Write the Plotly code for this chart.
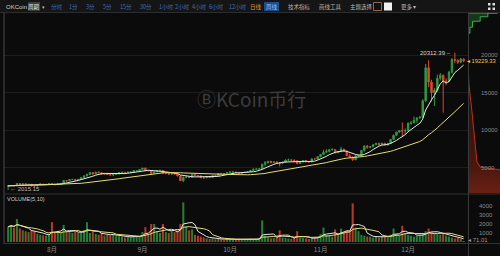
import plotly.graph_objects as go
import pandas as pd

# ---------------- data ----------------
dates = pd.date_range("2017-07-17", "2017-12-20", freq="D")
first_open = 2480.0

close_jul = [2560, 2600, 2550, 2860, 2670, 2830, 2750, 2760, 2580, 2530, 2680, 2800, 2730, 2760, 2870]
high_jul = [2600, 2650, 2640, 2900, 2900, 2860, 2860, 2780, 2770, 2620, 2700, 2830, 2810, 2770, 2900]
low_jul = [2015.15, 2520, 2500, 2540, 2600, 2620, 2700, 2710, 2470, 2460, 2510, 2670, 2700, 2690, 2720]

close_aug = [2720, 2710, 2800, 2860, 3260, 3230, 3390, 3420, 3340, 3420, 3650, 3860, 4060, 4320, 4160, 4380,
             4290, 4110, 4160, 4060, 4000, 4090, 4140, 4320, 4360, 4350, 4390, 4390, 4580, 4580, 4740]
high_aug = [2930, 2760, 2820, 2880, 3300, 3290, 3400, 3480, 3430, 3440, 3690, 3970, 4200, 4330, 4330, 4420,
            4480, 4370, 4190, 4180, 4110, 4140, 4250, 4340, 4460, 4370, 4420, 4410, 4620, 4650, 4750]
low_aug = [2670, 2650, 2690, 2770, 2860, 3150, 3220, 3360, 3260, 3340, 3400, 3640, 3850, 4020, 3990, 4130,
           4260, 4000, 3990, 4040, 3950, 3850, 4090, 4110, 4320, 4310, 4340, 4330, 4380, 4520, 4570]

close_sep = [4920, 4590, 4600, 4230, 4410, 4600, 4610, 4230, 4230, 4120, 4160, 4130, 3880, 3240, 3700,
             3700, 3690, 4090, 3920, 3890, 3630, 3620, 3780, 3660, 3930, 3890, 4210, 4190, 4160, 4340]
high_sep = [4930, 4970, 4700, 4600, 4480, 4640, 4690, 4640, 4320, 4250, 4280, 4360, 4150, 3920, 3790,
            3900, 3760, 4120, 4100, 4030, 3890, 3760, 3800, 3780, 3970, 3970, 4240, 4270, 4230, 4360]
low_sep = [4740, 4480, 4450, 4020, 4220, 4400, 4480, 4160, 4080, 4030, 4060, 4110, 3820, 3220, 3050,
           3610, 3580, 3680, 3880, 3850, 3590, 3560, 3600, 3630, 3650, 3860, 3890, 4150, 4120, 4160]

close_oct = [4400, 4400, 4310, 4220, 4320, 4370, 4440, 4610, 4770, 4780, 4830, 5440, 5640, 5830, 5680, 5750,
             5600, 5570, 5700, 6000, 6010, 5980, 5900, 5520, 5730, 5890, 5770, 5750, 6150, 6130, 6450]
high_oct = [4470, 4470, 4410, 4360, 4350, 4400, 4460, 4620, 4880, 4900, 4870, 5450, 5860, 5850, 5860, 5770,
            5780, 5600, 5740, 6070, 6190, 6080, 6070, 5910, 5760, 5970, 5990, 5790, 6250, 6210, 6470]
low_oct = [4300, 4360, 4240, 4190, 4140, 4300, 4320, 4400, 4560, 4710, 4770, 4820, 5160, 5530, 5560, 5560,
           5560, 5130, 5500, 5610, 5910, 5800, 5680, 5440, 5500, 5680, 5720, 5680, 5690, 6080, 6100]

close_nov = [6750, 7030, 7150, 7360, 7390, 6950, 7120, 7460, 7150, 6580, 6340, 6020, 6540, 6600, 7280,
             7850, 7700, 7780, 8040, 8200, 8070, 8240, 8000, 8200, 8750, 9290, 9730, 9910, 9860, 9940]
high_nov = [6770, 7350, 7440, 7490, 7600, 7420, 7220, 7770, 7460, 7320, 6830, 6500, 6700, 6720, 7320,
            7960, 8000, 7850, 8100, 8290, 8340, 8290, 8260, 8300, 8780, 9390, 9750, 9970, 11000, 10200]
low_nov = [6370, 6740, 6990, 7010, 7300, 6920, 6930, 7080, 7100, 6500, 6220, 5900, 6000, 6480, 6590,
           7120, 7500, 7540, 7700, 8020, 7920, 8060, 7970, 7950, 8130, 8700, 9280, 9600, 9100, 9450]

close_dec = [10900, 10950, 11300, 11600, 11700, 13900, 18300, 16400, 15000, 15300, 16900, 17300, 16500,
             16500, 17700, 19400, 19300, 19050, 19450, 19229.33]
high_dec = [11000, 11200, 11800, 11700, 11900, 14100, 18800, 19300, 16700, 15600, 17400, 17600, 17400,
            16900, 17900, 19600, 20312.39, 19400, 19600, 19550]
low_dec = [9800, 10700, 10900, 10950, 11500, 11650, 13700, 15700, 13800, 13200, 15100, 16600, 12300,
           16000, 16400, 17500, 18900, 18800, 18900, 19050]

vol_jul = [1700, 1900, 1600, 2550, 1500, 1300, 1200, 1100, 1300, 1200, 900, 800, 750, 700, 800]
vol_aug = [2200, 1000, 1100, 1000, 1900, 1100, 1200, 1000, 1150, 1000, 1100, 1300, 2200, 1000, 1100, 900,
           800, 1000, 700, 800, 750, 900, 700, 650, 600, 500, 550, 600, 650, 550, 700]
vol_sep = [1100, 1650, 900, 2000, 2000, 1200, 1000, 2000, 1100, 1000, 1200, 1100, 1300, 2000, 4400,
           1700, 1300, 1400, 800, 700, 600, 500, 400, 350, 400, 300, 350, 300, 250, 300]
vol_oct = [300, 250, 300, 350, 300, 250, 300, 350, 300, 350, 400, 2400, 700, 500, 400, 450,
           600, 1300, 500, 450, 400, 350, 500, 1200, 500, 450, 400, 350, 450, 500, 600]
vol_nov = [900, 1600, 800, 700, 600, 1400, 900, 1500, 1100, 1300, 1300, 4300, 1600, 1200, 800,
           700, 600, 600, 500, 600, 500, 700, 650, 600, 800, 1500, 900, 800, 1800, 1000]
vol_dec = [800, 700, 600, 700, 800, 1000, 1200, 1500, 1100, 1000, 900, 800, 1000, 700, 600,
           500, 400, 450, 350, 71.01]

month_ticks = ["2017-08-01", "2017-09-01", "2017-10-01", "2017-11-01", "2017-12-01"]
month_labels = ["8月", "9月", "10月", "11月", "12月"]
price_ticks = [5000, 10000, 15000, 20000]
price_tick_text = ["5000", "10000", "15000", "20000"]
volume_ticks = [1000, 2000, 3000, 4000]
volume_tick_text = ["1000", "2000", "3000", "4000"]

# order-book depth (price level, cumulative share of strip width)
ask_price = [22900, 23700, 24500, 25100, 25600]
ask_cum = [0.06, 0.14, 0.38, 0.62, 0.92]
bid_price = [19229.33, 16000, 12400, 8400, 5730, 5070, 4700]
bid_cum = [0.0, 0.03, 0.125, 0.22, 0.28, 0.375, 1.0]

close = close_jul + close_aug + close_sep + close_oct + close_nov + close_dec
high = high_jul + high_aug + high_sep + high_oct + high_nov + high_dec
low = low_jul + low_aug + low_sep + low_oct + low_nov + low_dec
volume = vol_jul + vol_aug + vol_sep + vol_oct + vol_nov + vol_dec
open_ = [first_open] + close[:-1]

ma7 = pd.Series(close).rolling(7, min_periods=1).mean()
ma30 = pd.Series(close).rolling(30, min_periods=1).mean()
vma5 = pd.Series(volume).rolling(5, min_periods=1).mean()
vma10 = pd.Series(volume).rolling(10, min_periods=1).mean()

# ---------------- styling ----------------
W, H = 500, 256
BG = "#0b0b0b"
GREEN = "#2f9a40"
RED = "#e0452f"
GRID = "#1d1d1d"
LABEL = "#8a8a8a"
NUMF = "Liberation Sans, Arial, sans-serif"
CJKF = "Noto Sans CJK SC, Noto Sans, sans-serif"

def X(px):
    return px / W

def Y(py):
    return 1 - py / H

PRICE_RANGE = [1600, 25600]
VOL_RANGE = [-111, 5111]
x_range = ["2017-07-15 14:00", "2017-12-21 12:00"]

fig = go.Figure()

fig.add_trace(go.Candlestick(
    x=dates, open=open_, high=high, low=low, close=close,
    increasing=dict(line=dict(color=GREEN, width=1), fillcolor=GREEN),
    decreasing=dict(line=dict(color=RED, width=1), fillcolor=RED),
    whiskerwidth=0, xaxis="x", yaxis="y", hoverinfo="skip"))
fig.add_trace(go.Scatter(x=dates, y=ma7, mode="lines", line=dict(color="#e6e6e6", width=1),
                         xaxis="x", yaxis="y", hoverinfo="skip"))
fig.add_trace(go.Scatter(x=dates, y=ma30, mode="lines", line=dict(color="#e2dc78", width=1),
                         xaxis="x", yaxis="y", hoverinfo="skip"))

bar_colors = [GREEN if c >= o else RED for o, c in zip(open_, close)]
fig.add_trace(go.Bar(x=dates, y=volume, marker=dict(color=bar_colors, line=dict(width=0)),
                     opacity=0.8, width=86400000 * 0.7, xaxis="x2", yaxis="y2", hoverinfo="skip"))
fig.add_trace(go.Scatter(x=dates, y=vma5, mode="lines", line=dict(color="#e6e6e6", width=1),
                         xaxis="x2", yaxis="y2", hoverinfo="skip"))
fig.add_trace(go.Scatter(x=dates, y=vma10, mode="lines", line=dict(color="#e2dc78", width=1),
                         xaxis="x2", yaxis="y2", hoverinfo="skip"))

# depth: asks (green staircase)
ax, ay = [0.0], [ask_price[0]]
prev = 0.0
for p, c in zip(ask_price, ask_cum):
    ax += [prev, c]
    ay += [p, p]
    prev = c
ax += [prev, 0.0]
ay += [PRICE_RANGE[1], PRICE_RANGE[1]]
fig.add_trace(go.Scatter(x=ax, y=ay, mode="lines", fill="toself", fillcolor="rgba(30,110,45,0.45)",
                         line=dict(color="#35b04a", width=1), xaxis="x3", yaxis="y3", hoverinfo="skip"))
# depth: bids (red curve with gradient)
bx = bid_cum + [1.0, 0.0]
by = bid_price + [PRICE_RANGE[0], PRICE_RANGE[0]]
fig.add_trace(go.Scatter(x=bx, y=by, mode="lines", fill="toself",
                         fillgradient=dict(type="vertical", start=PRICE_RANGE[0], stop=bid_price[0],
                                           colorscale=[[0, "#6a2014"], [0.2, "#4a170f"], [1, "#170c0a"]]),
                         line=dict(width=0), xaxis="x3", yaxis="y3", hoverinfo="skip"))
fig.add_trace(go.Scatter(x=bid_cum, y=bid_price, mode="lines", line=dict(color="#b8321f", width=1),
                         xaxis="x3", yaxis="y3", hoverinfo="skip"))

price_dom = [Y(193), Y(13)]
vol_dom = [Y(243), Y(196)]
plot_x = [X(4), X(468)]

fig.update_layout(
    width=W, height=H, margin=dict(l=0, r=0, t=0, b=0),
    paper_bgcolor=BG, plot_bgcolor=BG, showlegend=False, bargap=0.3,
    xaxis=dict(domain=plot_x, range=x_range, type="date", showticklabels=False, showgrid=False,
               zeroline=False, rangeslider=dict(visible=False), anchor="y", fixedrange=True),
    yaxis=dict(domain=price_dom, range=PRICE_RANGE, tickvals=price_ticks, showticklabels=False,
               gridcolor=GRID, gridwidth=1, zeroline=False, anchor="x"),
    xaxis2=dict(domain=plot_x, range=x_range, type="date", matches="x", anchor="y2",
                tickvals=pd.to_datetime(month_ticks), ticktext=month_labels, showgrid=False,
                zeroline=False, tickfont=dict(family=CJKF, size=6.5, color=LABEL), ticks="",
                ticklabelstandoff=1),
    yaxis2=dict(domain=vol_dom, range=VOL_RANGE, tickvals=volume_ticks, ticktext=volume_tick_text,
                side="right", anchor="x2",
                showgrid=False, zeroline=False, ticks="", ticklabelstandoff=10,
                tickfont=dict(family=NUMF, size=6, color=LABEL)),
    xaxis3=dict(domain=[X(468), 1], range=[0, 1], visible=False, anchor="y3"),
    yaxis3=dict(domain=price_dom, range=PRICE_RANGE, tickvals=price_ticks, ticktext=price_tick_text,
                anchor="x3", side="left",
                ticklabelposition="inside", ticklabelstandoff=10, showgrid=False, zeroline=False,
                showline=False, ticks="", tickfont=dict(family=NUMF, size=6, color=LABEL)),
)

shapes = []
# toolbar
shapes.append(dict(type="rect", xref="paper", yref="paper", x0=0, x1=1, y0=Y(12), y1=1,
                   fillcolor="#151515", line=dict(width=0), layer="below"))
shapes.append(dict(type="line", xref="paper", yref="paper", x0=0, x1=1, y0=Y(12.5), y1=Y(12.5),
                   line=dict(color="#2c2c2c", width=1)))
# frame lines
shapes.append(dict(type="line", xref="paper", yref="paper", x0=X(4), x1=X(4), y0=Y(13), y1=Y(244),
                   line=dict(color="#4a4a4a", width=1)))
shapes.append(dict(type="line", xref="paper", yref="paper", x0=X(4), x1=1, y0=Y(194), y1=Y(194),
                   line=dict(color="#333333", width=1)))
shapes.append(dict(type="line", xref="paper", yref="paper", x0=X(4), x1=1, y0=Y(243.5), y1=Y(243.5),
                   line=dict(color="#333333", width=1)))
shapes.append(dict(type="line", xref="paper", yref="paper", x0=X(468.5), x1=X(468.5), y0=Y(13), y1=0,
                   line=dict(color="#3a3a3a", width=1)))
# period selector box, theme squares, grid icon
shapes.append(dict(type="rect", xref="paper", yref="paper", x0=X(28), x1=X(40), y0=Y(11), y1=Y(2),
                   fillcolor="#3c3c3c", line=dict(width=0)))
shapes.append(dict(type="rect", xref="paper", yref="paper", x0=X(264), x1=X(279), y0=Y(11), y1=Y(2),
                   fillcolor="#1d4c8a", line=dict(width=0)))
shapes.append(dict(type="rect", xref="paper", yref="paper", x0=X(373.5), x1=X(381.5), y0=Y(10.5), y1=Y(2.5),
                   fillcolor="#111111", line=dict(color="#8a6a50", width=1)))
shapes.append(dict(type="rect", xref="paper", yref="paper", x0=X(384), x1=X(392), y0=Y(10.5), y1=Y(2.5),
                   fillcolor="#f2f2f2", line=dict(width=0)))
for gx in (488, 492.5):
    for gy in (3, 7.5):
        shapes.append(dict(type="rect", xref="paper", yref="paper", x0=X(gx), x1=X(gx + 2.5),
                           y0=Y(gy + 2.5), y1=Y(gy), fillcolor="#dddddd", line=dict(width=0)))
fig.update_layout(shapes=shapes)

ann = []
def txt(x, y, s, size=6, color="#cccccc", family=CJKF, anchor="left"):
    ann.append(dict(x=X(x), y=Y(y), xref="paper", yref="paper", text=s, showarrow=False,
                    xanchor=anchor, yanchor="middle", font=dict(family=family, size=size, color=color)))

txt(4, 6.5, "OKCoin", 6, "#d0d0d0", NUMF)
txt(34, 6.5, "周期", 5.5, "#e8e8e8", CJKF, "center")
txt(43.5, 6.5, "▾", 5, "#bbbbbb", NUMF, "center")
periods = ["分时", "1分", "3分", "5分", "15分", "30分", "1小时", "2小时", "4小时", "6小时", "12小时"]
period_x = [57, 73, 90, 107, 126, 146, 166, 182, 199, 216, 238]
for s, px in zip(periods, period_x):
    txt(px, 6.5, s, 5.5, "#3f70b5", CJKF, "center")
txt(256, 6.5, "日线", 5.5, "#e0962c", CJKF, "center")
txt(271.5, 6.5, "周线", 5.5, "#9fc0ee", CJKF, "center")
txt(299, 6.5, "技术指标", 5.5, "#b8b8b8", CJKF, "center")
txt(330, 6.5, "画线工具", 5.5, "#b8b8b8", CJKF, "center")
txt(361, 6.5, "主题选择", 5.5, "#b8b8b8", CJKF, "center")
txt(408, 6.5, "更多 ▾", 5.5, "#b8b8b8", CJKF, "center")

# watermark
txt(251, 98, "ⒷKCoin币行", 19, "#3b3b3b", CJKF, "center")
# volume label
txt(5, 199, "VOLUME(5,10)", 5.5, "#c8c8c8", NUMF)
fig.update_layout(annotations=ann)

# data-anchored labels
imax = max(range(len(high)), key=lambda i: high[i])
imin = min(range(len(low)), key=lambda i: low[i])
fig.add_annotation(x=dates[imax], y=high[imax], xref="x", yref="y", xshift=-2,
                   text=f"{high[imax]:.2f} –", showarrow=False, xanchor="right", yanchor="middle",
                   font=dict(family=NUMF, size=6, color="#d8d8d8"))
fig.add_annotation(x=dates[imin], y=low[imin], xref="x", yref="y", text=f"← {low[imin]:.2f}",
                   showarrow=False, xanchor="left", yanchor="middle", yshift=1,
                   font=dict(family=NUMF, size=6, color="#bdbdbd"))
fig.add_annotation(x=X(465), y=close[-1], xref="paper", yref="y", text=f"◂ {close[-1]:.2f}",
                   showarrow=False, xanchor="left", yanchor="middle",
                   font=dict(family=NUMF, size=5.8, color="#f0c44a"))
fig.add_annotation(x=X(466), y=volume[-1] + 150, xref="paper", yref="y2", text=f"◂ {volume[-1]:.2f}",
                   showarrow=False, xanchor="left", yanchor="middle",
                   font=dict(family=NUMF, size=6, color="#9a9a9a"))

fig.write_html("out.html")
